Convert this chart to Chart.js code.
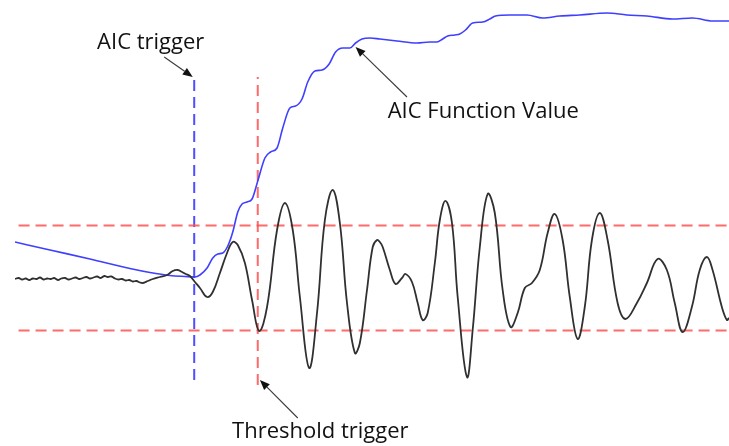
<!DOCTYPE html>
<html>
<head>
<meta charset="utf-8">
<script src="https://cdn.jsdelivr.net/npm/chart.js@4"></script>
<style>
  html, body { margin: 0; padding: 0; background: #ffffff; }
  #wrap { width: 729px; height: 446px; }
</style>
</head>
<body>
<div id="wrap"><canvas id="c" width="729" height="446"></canvas></div>
<script>
// Acoustic emission waveform (samples) and its AIC picker curve
const signalTime = [
  0, 5, 10, 15, 20, 25, 30, 35, 40, 45, 50, 55, 60, 65, 70, 75, 80, 85, 90, 95,
  100, 105, 110, 115, 120, 125, 130, 135, 140, 145, 150, 155, 160, 165, 170, 175,
  179, 186, 193, 203, 213, 221, 228, 234, 239, 245, 252, 259, 269, 277, 287, 297,
  305, 312, 322, 332, 342, 353, 367, 378, 389, 399, 412, 423, 434, 445, 455, 465,
  476, 483, 493, 501, 507, 511, 515, 525, 533, 542, 547, 556, 564, 571, 578, 588,
  595, 603, 612, 620, 633, 641, 651, 662, 672, 683, 694, 704, 714, 724, 735, 746,
  756, 767, 777, 788, 798, 808, 819, 830, 844, 855, 871, 885, 900, 913, 924, 935,
  948, 959, 969, 977, 990, 997, 1000
];
const signalAmp = [
  -2, 0, -3, -1, -4, -1, -2, 1, -3, -1, -2, 0, -4, -1, 0, -3, -1, 1, -2, 0,
  2, -1, 1, 3, 0, 4, 2, 3, -1, -3, -2, -5, -4, -7, -6, -9,
  -10, -6, -2, 2, 6, 14, 16, 12, 8, 4, -8, -20, -38, -28, 10, 50,
  72, 66, 30, -44, -106, -58, 96, 150, 96, -38, -180, -70, 116, 176, 110, -50,
  -150, -130, -24, 62, 76, 72, 62, 16, -12, 0, 8, -8, -50, -84, -70, 30,
  116, 154, 110, -38, -198, -104, 62, 168, 130, -24, -98, -70, -20, -10, 16, 90,
  128, 76, -38, -122, -58, 76, 130, 76, -50, -82, -50, -10, 38, 16, -50, -108,
  -58, 16, 42, 16, -58, -84, -80
];

const aicTime = [
  0, 49, 105, 161, 189, 217, 238, 252, 259, 269, 277, 284, 291, 298, 305, 312,
  318, 325, 332, 340, 350, 358, 367, 375, 385, 393, 402, 410, 420, 430, 440, 449,
  459, 469, 477, 486, 497, 511, 535, 563, 581, 591, 599, 606, 616, 623, 631, 641,
  655, 665, 673, 693, 717, 739, 763, 791, 829, 857, 885, 921, 949, 977, 1000
];
const aicValue = [
  140, 108, 72, 34, 18, 6, 2, 0, 8, 36, 76, 92, 96, 124, 180, 260,
  292, 300, 312, 384, 476, 500, 516, 596, 676, 684, 712, 780, 824, 828, 852, 900,
  916, 916, 936, 952, 956, 952, 944, 936, 940, 940, 952, 964, 968, 972, 988, 1016,
  1020, 1032, 1044, 1048, 1048, 1036, 1044, 1048, 1056, 1048, 1044, 1032, 1036, 1024, 1024
];

// Trigger threshold (±) and the two picked onset times
const thresholdLevel = 105;
const thresholdSpan = [5, 1000];
const aicTriggerTime = 251;
const aicTriggerSpan = [-204, 402];
const thresholdTriggerTime = 340;
const thresholdTriggerSpan = [-214, 402];

// Callouts: label text with anchor, and arrow tail -> head, in (time, amplitude)
const calloutText = ['AIC trigger', 'AIC Function Value', 'Threshold trigger'];
const calloutTextAt = [[115, 458], [522, 320], [304, -320]];
const calloutArrowFrom = [[209, 442], [549, 362], [396, -280]];
const calloutArrowTo = [[249, 402], [477, 462], [343, -204]];

const zip = (xs, ys) => xs.map((x, i) => ({ x: x, y: ys[i] }));

const dashed = (color) => ({
  borderColor: color,
  borderWidth: 2,
  borderDash: [11, 6],
  pointRadius: 0,
  fill: false,
  tension: 0
});

const calloutPlugin = {
  id: 'callouts',
  afterDatasetsDraw(chart) {
    const ctx = chart.ctx;
    const xs = chart.scales.x, ys = chart.scales.y;
    const px = (p) => [xs.getPixelForValue(p[0]), ys.getPixelForValue(p[1])];
    ctx.save();
    // arrows
    calloutArrowFrom.forEach((from, i) => {
      const a = px(from), b = px(calloutArrowTo[i]);
      const ang = Math.atan2(b[1] - a[1], b[0] - a[0]);
      const headLen = 10, headW = 4;
      const bx = b[0] - headLen * Math.cos(ang), by = b[1] - headLen * Math.sin(ang);
      ctx.strokeStyle = '#3a3a3a';
      ctx.lineWidth = 1.1;
      ctx.beginPath();
      ctx.moveTo(a[0], a[1]);
      ctx.lineTo(bx, by);
      ctx.stroke();
      ctx.fillStyle = '#111111';
      ctx.beginPath();
      ctx.moveTo(b[0], b[1]);
      ctx.lineTo(bx + headW * Math.sin(ang), by - headW * Math.cos(ang));
      ctx.lineTo(bx - headW * Math.sin(ang), by + headW * Math.cos(ang));
      ctx.closePath();
      ctx.fill();
    });
    // labels
    ctx.fillStyle = '#111111';
    ctx.font = '22px "Open Sans", sans-serif';
    ctx.textAlign = 'left';
    ctx.textBaseline = 'alphabetic';
    calloutText.forEach((t, i) => {
      const p = px(calloutTextAt[i]);
      ctx.fillText(t, p[0], p[1]);
    });
    ctx.restore();
  }
};

new Chart(document.getElementById('c'), {
  type: 'line',
  data: {
    datasets: [
      {
        label: 'Waveform',
        data: zip(signalTime, signalAmp),
        borderColor: '#303030',
        borderWidth: 1.8,
        pointRadius: 0,
        tension: 0.4,
        fill: false,
        yAxisID: 'y',
        order: 1
      },
      {
        label: 'AIC',
        data: zip(aicTime, aicValue),
        borderColor: '#3f3fff',
        borderWidth: 1.6,
        pointRadius: 0,
        cubicInterpolationMode: 'monotone',
        fill: false,
        yAxisID: 'y2',
        order: 2
      },
      Object.assign({
        label: 'Upper threshold',
        data: zip(thresholdSpan, [thresholdLevel, thresholdLevel]),
        yAxisID: 'y',
        order: 3
      }, dashed('rgba(255, 80, 80, 0.85)')),
      Object.assign({
        label: 'Lower threshold',
        data: zip(thresholdSpan, [-thresholdLevel, -thresholdLevel]),
        yAxisID: 'y',
        order: 3
      }, dashed('rgba(255, 80, 80, 0.85)')),
      Object.assign({
        label: 'AIC trigger',
        data: zip([aicTriggerTime, aicTriggerTime], aicTriggerSpan),
        yAxisID: 'y',
        order: 3
      }, dashed('rgba(60, 60, 255, 0.9)')),
      Object.assign({
        label: 'Threshold trigger',
        data: zip([thresholdTriggerTime, thresholdTriggerTime], thresholdTriggerSpan),
        yAxisID: 'y',
        order: 3
      }, dashed('rgba(255, 80, 80, 0.85)'))
    ]
  },
  options: {
    responsive: false,
    animation: false,
    devicePixelRatio: 1,
    layout: { padding: { left: 15, right: 0, top: 0, bottom: 0 } },
    plugins: {
      legend: { display: false },
      tooltip: { enabled: false },
      title: { display: false }
    },
    scales: {
      x: { type: 'linear', min: 0, max: 1000, display: false },
      y: { type: 'linear', min: -336, max: 556, display: false },
      y2: { type: 'linear', min: -676, max: 1108, display: false }
    }
  },
  plugins: [calloutPlugin]
});
</script>
</body>
</html>
